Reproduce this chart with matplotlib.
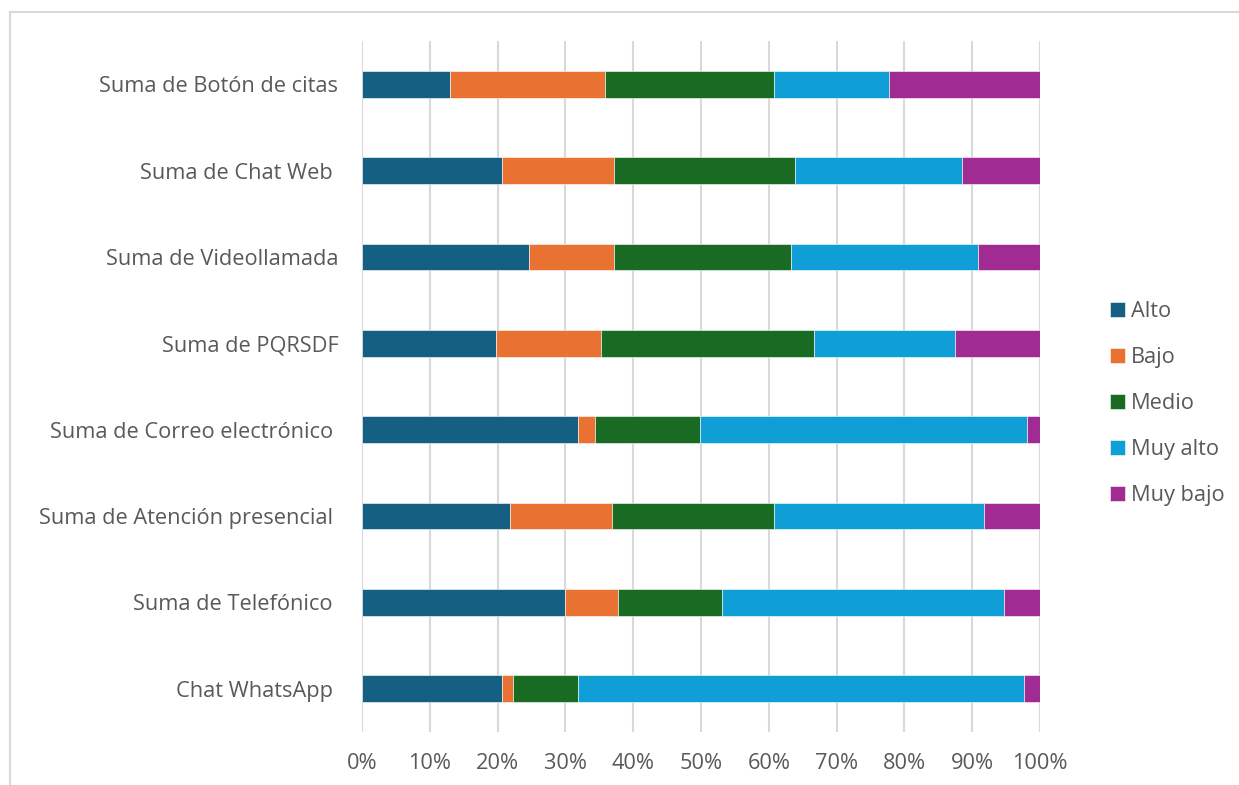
import matplotlib.pyplot as plt
import numpy as np
from matplotlib.patches import Rectangle

plt.rcParams['font.family'] = ['Open Sans', 'DejaVu Sans']

categorias = ["Suma de Botón de citas", "Suma de Chat Web ", "Suma de Videollamada",
              "Suma de PQRSDF", "Suma de Correo electrónico ", "Suma de Atención presencial ",
              "Suma de Telefónico ", "Chat WhatsApp "]
series = ["Alto", "Bajo", "Medio", "Muy alto", "Muy bajo"]

alto = [13.0, 20.7, 24.7, 19.8, 31.9, 21.8, 30.0, 20.7]
bajo = [22.8, 16.5, 12.5, 15.5, 2.4, 15.0, 7.7, 1.6]
medio = [25.0, 26.6, 26.1, 31.4, 15.5, 24.0, 15.4, 9.6]
muy_alto = [17.0, 24.7, 27.6, 20.8, 48.3, 31.0, 41.6, 65.7]
muy_bajo = [22.2, 11.5, 9.1, 12.5, 1.9, 8.2, 5.3, 2.4]

colores = ["#156082", "#E97132", "#196B24", "#0F9ED5", "#A02B93"]

valores = np.array([alto, bajo, medio, muy_alto, muy_bajo])
valores = valores / valores.sum(axis=0)  # 100% apilado

fig = plt.figure(figsize=(12.39, 7.85), dpi=100)
ax = fig.add_axes([362 / 1239, 1 - 732 / 785, 678 / 1239, 691 / 785])

# marco gris del grafico
fig.patches.append(Rectangle((10 / 1239, -0.1), 1.2, (1 - 12 / 785) + 0.1,
                             transform=fig.transFigure, fill=False,
                             edgecolor="#d9d9d9", linewidth=1.5))

y = np.arange(len(categorias))
izq = np.zeros(len(categorias))
for nombre, fila, c in zip(series, valores, colores):
    ax.barh(y, fila, left=izq, height=0.31, color=c, label=nombre,
            edgecolor="white", linewidth=0.4, zorder=3)
    izq += fila

ax.set_xlim(0, 1)
ax.set_ylim(len(categorias) - 0.5, -0.5)
ax.set_xticks(np.linspace(0, 1, 11))
ax.set_xticklabels([f"{int(v)}%" for v in np.linspace(0, 100, 11)])
ax.set_yticks(y)
ax.set_yticklabels(categorias)
ax.tick_params(axis="both", length=0, labelsize=15.7, colors="#595959")
ax.tick_params(axis="y", pad=17)
ax.tick_params(axis="x", pad=15)
ax.grid(axis="x", color="#d9d9d9", linewidth=1.5, zorder=0)
for s in ax.spines.values():
    s.set_visible(False)

leg = ax.legend(loc="center left", bbox_to_anchor=(1.075, 0.475), frameon=False,
                fontsize=15.7, handlelength=0.65, handleheight=0.65,
                handletextpad=0.3, labelspacing=1.15, labelcolor="#595959")

fig.savefig("out.png", dpi=100)
